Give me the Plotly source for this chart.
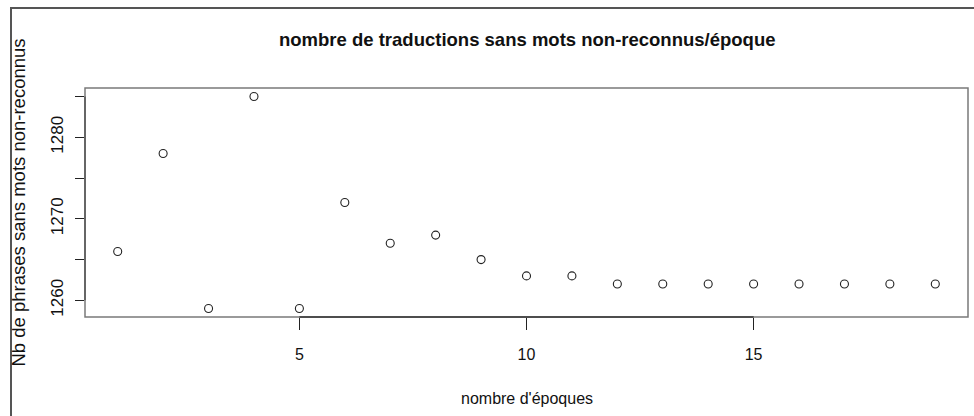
import plotly.graph_objects as go

epoques = list(range(1, 20))
nb_phrases = [1266, 1278, 1259, 1285, 1259, 1272, 1267, 1268, 1265, 1263,
              1263, 1262, 1262, 1262, 1262, 1262, 1262, 1262, 1262]
x_ticks = [5, 10, 15]
y_ticks = [1260, 1265, 1270, 1275, 1280, 1285]
y_ticklabels = ["1260", "", "1270", "", "1280", ""]

title_text = "nombre de traductions sans mots non-reconnus/époque"
x_title = "nombre d'époques"
y_title = "Nb de phrases sans mots non-reconnus"

W, H = 974, 416
L, R, T, B = 85, 6, 88, 99
pw, ph = W - L - R, H - T - B

def px(xp):
    return (xp - L) / pw

def py(yp):
    return (H - B - yp) / ph

xmin, xmax = min(epoques), max(epoques)
ymin, ymax = min(nb_phrases), max(nb_phrases)
xpad = 0.04 * (xmax - xmin)
ypad = 0.04 * (ymax - ymin)

fig = go.Figure()
fig.add_trace(go.Scatter(
    x=epoques, y=nb_phrases, mode="markers",
    marker=dict(symbol="circle-open", size=8, color="#222222",
                line=dict(width=1.1, color="#222222")),
    showlegend=False, hoverinfo="x+y"))

font = "Liberation Sans, Arial, sans-serif"

fig.update_layout(
    width=W, height=H,
    margin=dict(l=L, r=R, t=T, b=B, pad=0),
    paper_bgcolor="white", plot_bgcolor="white",
    font=dict(family=font, color="#111111"),
    xaxis=dict(range=[xmin - xpad, xmax + xpad], tickvals=x_ticks,
               ticks="outside", ticklen=12, tickwidth=1, tickcolor="#222222",
               showgrid=False, zeroline=False, showline=False,
               tickfont=dict(size=16, family=font, color="#111111"),
               ticklabelstandoff=11),
    yaxis=dict(range=[ymin - ypad, ymax + ypad], tickvals=y_ticks,
               ticktext=y_ticklabels, tickangle=-90,
               ticks="outside", ticklen=9, tickwidth=1, tickcolor="#222222",
               showgrid=False, zeroline=False, showline=False,
               tickfont=dict(size=17, family=font, color="#111111"),
               ticklabelstandoff=5),
    annotations=[
        dict(text="<b>" + title_text + "</b>", xref="paper", yref="paper",
             x=0.5, y=py(40), xanchor="center", yanchor="middle",
             showarrow=False, font=dict(size=18.5, family=font, color="#111111")),
        dict(text=x_title, xref="paper", yref="paper",
             x=0.5, y=py(398), xanchor="center", yanchor="middle",
             showarrow=False, font=dict(size=16, family=font, color="#111111")),
        dict(text=y_title, xref="paper", yref="paper", textangle=-90,
             x=px(18), y=0.5, xanchor="center", yanchor="middle",
             showarrow=False, font=dict(size=18.5, family=font, color="#111111")),
    ],
    shapes=[
        # plot box
        dict(type="rect", xref="paper", yref="paper", x0=0, x1=1, y0=0, y1=1,
             line=dict(color="#7a7a7a", width=1.5), layer="above"),
        # x axis line between first and last ticks
        dict(type="line", xref="x", yref="paper", x0=x_ticks[0], x1=x_ticks[-1],
             y0=0, y1=0, line=dict(color="#333333", width=1.5), layer="above"),
        # y axis line between first and last ticks
        dict(type="line", xref="paper", yref="y", x0=0, x1=0,
             y0=y_ticks[0], y1=y_ticks[-1], line=dict(color="#555555", width=1.5),
             layer="above"),
        # document frame (screenshot border): left and top edges
        dict(type="path", xref="paper", yref="paper",
             path=f"M {px(11)},{py(H + 5)} L {px(11)},{py(8)} L {px(W + 5)},{py(8)}",
             line=dict(color="#555555", width=2), layer="above"),
    ],
)

fig.write_html("out.html",
               config={"displayModeBar": False},
               post_script="document.body.style.margin='0';"
                           "document.body.style.overflow='hidden';")
